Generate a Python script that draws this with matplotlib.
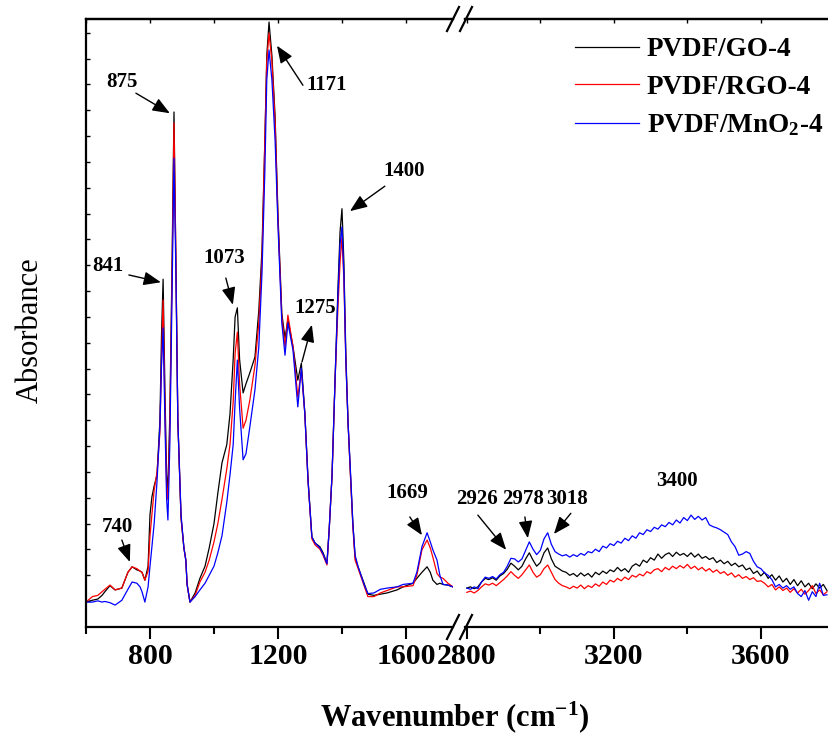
import numpy as np
import matplotlib
matplotlib.use('Agg')
import matplotlib.pyplot as plt
from matplotlib.lines import Line2D

plt.rcParams['font.family'] = 'Liberation Serif'
plt.rcParams['font.weight'] = 'bold'
plt.rcParams['mathtext.fontset'] = 'custom'
plt.rcParams['mathtext.rm'] = 'Liberation Serif:bold'
plt.rcParams['mathtext.it'] = 'Liberation Serif:bold:italic'
plt.rcParams['mathtext.bf'] = 'Liberation Serif:bold'

# fingerprint region (cm-1)
wn_low = [600, 620, 637, 650, 659, 675, 691, 712, 731, 744, 759, 769, 775, 784, 794,
          800, 806, 813, 822, 831, 836, 841, 847, 852, 856, 862, 869, 875, 881, 887,
          897, 906, 912, 916, 925, 941, 956, 972, 985, 1000, 1012, 1025, 1040, 1050,
          1060, 1066, 1073, 1080, 1091, 1100, 1112, 1128, 1140, 1150, 1159, 1165, 1172,
          1181, 1191, 1200, 1212, 1222, 1231, 1247, 1262, 1273, 1284, 1294, 1306, 1316,
          1331, 1341, 1353, 1360, 1369, 1378, 1387, 1394, 1400, 1406, 1412, 1419, 1428,
          1434, 1441, 1450, 1469, 1481, 1500, 1520, 1541, 1572, 1591, 1622, 1634, 1650,
          1666, 1676, 1684, 1697, 1706, 1716, 1731, 1747]

go_low = [0.041, 0.044, 0.046, 0.052, 0.058, 0.068, 0.061, 0.064, 0.090, 0.099, 0.094,
          0.092, 0.090, 0.077, 0.100, 0.185, 0.214, 0.232, 0.250, 0.340, 0.480, 0.572,
          0.380, 0.250, 0.225, 0.350, 0.600, 0.847, 0.600, 0.340, 0.180, 0.130, 0.110,
          0.070, 0.041, 0.056, 0.080, 0.100, 0.130, 0.170, 0.220, 0.270, 0.300, 0.350,
          0.440, 0.510, 0.525, 0.440, 0.385, 0.400, 0.418, 0.444, 0.520, 0.620, 0.800,
          0.940, 0.995, 0.940, 0.840, 0.678, 0.516, 0.475, 0.505, 0.461, 0.406, 0.434,
          0.352, 0.242, 0.148, 0.138, 0.132, 0.122, 0.105, 0.160, 0.250, 0.400, 0.550,
          0.650, 0.688, 0.600, 0.450, 0.336, 0.234, 0.171, 0.115, 0.099, 0.072, 0.054,
          0.052, 0.054, 0.056, 0.061, 0.066, 0.072, 0.080, 0.090, 0.099, 0.090, 0.077,
          0.070, 0.072, 0.070, 0.069, 0.066]

rgo_low = [0.041, 0.050, 0.052, 0.058, 0.062, 0.069, 0.061, 0.064, 0.090, 0.099, 0.096,
           0.092, 0.090, 0.077, 0.092, 0.150, 0.185, 0.225, 0.255, 0.320, 0.440, 0.538,
           0.350, 0.230, 0.209, 0.330, 0.580, 0.829, 0.600, 0.340, 0.180, 0.130, 0.110,
           0.070, 0.041, 0.052, 0.074, 0.090, 0.110, 0.140, 0.170, 0.210, 0.260, 0.300,
           0.370, 0.450, 0.485, 0.400, 0.327, 0.340, 0.373, 0.430, 0.500, 0.604, 0.800,
           0.930, 0.977, 0.930, 0.830, 0.670, 0.510, 0.461, 0.513, 0.461, 0.378, 0.423,
           0.350, 0.240, 0.145, 0.135, 0.128, 0.118, 0.102, 0.160, 0.250, 0.400, 0.520,
           0.600, 0.641, 0.570, 0.440, 0.336, 0.232, 0.165, 0.110, 0.097, 0.068, 0.050,
           0.050, 0.056, 0.060, 0.066, 0.066, 0.068, 0.085, 0.127, 0.143, 0.130, 0.115,
           0.088, 0.082, 0.080, 0.072, 0.066]

mno2_low = [0.041, 0.041, 0.043, 0.041, 0.042, 0.040, 0.036, 0.044, 0.062, 0.074, 0.072,
            0.066, 0.058, 0.041, 0.066, 0.100, 0.132, 0.170, 0.240, 0.330, 0.430, 0.492,
            0.330, 0.210, 0.176, 0.300, 0.550, 0.771, 0.580, 0.340, 0.185, 0.130, 0.110,
            0.070, 0.041, 0.050, 0.061, 0.072, 0.085, 0.100, 0.122, 0.150, 0.205, 0.250,
            0.300, 0.370, 0.439, 0.360, 0.275, 0.285, 0.329, 0.390, 0.460, 0.582, 0.750,
            0.900, 0.949, 0.900, 0.800, 0.660, 0.500, 0.447, 0.500, 0.455, 0.362, 0.426,
            0.350, 0.240, 0.148, 0.138, 0.130, 0.120, 0.104, 0.160, 0.250, 0.400, 0.540,
            0.630, 0.658, 0.580, 0.440, 0.336, 0.240, 0.170, 0.118, 0.100, 0.070, 0.055,
            0.056, 0.062, 0.064, 0.066, 0.070, 0.072, 0.090, 0.132, 0.155, 0.140, 0.127,
            0.110, 0.085, 0.070, 0.069, 0.066]

# C-H / O-H region (cm-1)
wn_high = [2800, 2810, 2820, 2830, 2840, 2850, 2860, 2870, 2880, 2890,
           2900, 2910, 2920, 2930, 2940, 2950, 2960, 2970, 2980, 2990,
           3000, 3010, 3020, 3030, 3040, 3050, 3060, 3070, 3080, 3090,
           3100, 3110, 3120, 3130, 3140, 3150, 3160, 3170, 3180, 3190,
           3200, 3210, 3220, 3230, 3240, 3250, 3260, 3270, 3280, 3290,
           3300, 3310, 3320, 3330, 3340, 3350, 3360, 3370, 3380, 3390,
           3400, 3410, 3420, 3430, 3440, 3450, 3460, 3470, 3480, 3490,
           3500, 3510, 3520, 3530, 3540, 3550, 3560, 3570, 3580, 3590,
           3600, 3610, 3620, 3630, 3640, 3650, 3660, 3670, 3680, 3690,
           3700, 3710, 3720, 3730, 3740, 3750, 3760, 3770, 3780]

go_high = [0.064, 0.066, 0.063, 0.066, 0.074, 0.080, 0.078, 0.081, 0.077, 0.084,
           0.088, 0.095, 0.105, 0.100, 0.094, 0.100, 0.112, 0.122, 0.110, 0.100,
           0.106, 0.122, 0.130, 0.112, 0.100, 0.096, 0.092, 0.090, 0.085, 0.088,
           0.083, 0.089, 0.084, 0.088, 0.082, 0.090, 0.086, 0.092, 0.088, 0.094,
           0.091, 0.098, 0.092, 0.096, 0.090, 0.100, 0.104, 0.100, 0.110, 0.106,
           0.114, 0.110, 0.120, 0.113, 0.119, 0.122, 0.116, 0.123, 0.118, 0.121,
           0.116, 0.122, 0.115, 0.120, 0.113, 0.116, 0.111, 0.114, 0.106, 0.110,
           0.104, 0.108, 0.101, 0.105, 0.099, 0.102, 0.094, 0.097, 0.088, 0.092,
           0.084, 0.090, 0.080, 0.086, 0.077, 0.084, 0.074, 0.080, 0.070, 0.078,
           0.068, 0.076, 0.066, 0.072, 0.063, 0.071, 0.064, 0.070, 0.060]

rgo_high = [0.057, 0.059, 0.056, 0.060, 0.066, 0.071, 0.069, 0.072, 0.068, 0.073,
            0.078, 0.084, 0.091, 0.085, 0.080, 0.086, 0.094, 0.102, 0.090, 0.082,
            0.086, 0.096, 0.102, 0.090, 0.078, 0.072, 0.068, 0.066, 0.063, 0.067,
            0.064, 0.069, 0.063, 0.068, 0.065, 0.071, 0.067, 0.074, 0.070, 0.077,
            0.074, 0.080, 0.076, 0.082, 0.078, 0.085, 0.082, 0.087, 0.084, 0.091,
            0.088, 0.094, 0.096, 0.091, 0.098, 0.094, 0.100, 0.096, 0.101, 0.097,
            0.103, 0.096, 0.100, 0.094, 0.098, 0.092, 0.096, 0.090, 0.094, 0.088,
            0.091, 0.085, 0.089, 0.082, 0.086, 0.080, 0.083, 0.078, 0.081, 0.075,
            0.076, 0.072, 0.066, 0.070, 0.061, 0.066, 0.060, 0.064, 0.057, 0.063,
            0.056, 0.062, 0.054, 0.060, 0.068, 0.055, 0.061, 0.053, 0.058]

mno2_high = [0.064, 0.062, 0.066, 0.063, 0.074, 0.082, 0.080, 0.083, 0.079, 0.086,
             0.090, 0.100, 0.113, 0.112, 0.107, 0.112, 0.126, 0.140, 0.128, 0.119,
             0.126, 0.145, 0.155, 0.136, 0.124, 0.120, 0.117, 0.119, 0.115, 0.119,
             0.116, 0.121, 0.118, 0.124, 0.122, 0.128, 0.124, 0.133, 0.130, 0.137,
             0.134, 0.141, 0.138, 0.146, 0.142, 0.150, 0.146, 0.155, 0.152, 0.160,
             0.157, 0.164, 0.161, 0.168, 0.165, 0.172, 0.168, 0.176, 0.171, 0.180,
             0.175, 0.184, 0.177, 0.182, 0.176, 0.180, 0.168, 0.165, 0.163, 0.160,
             0.156, 0.152, 0.140, 0.132, 0.118, 0.120, 0.124, 0.121, 0.108, 0.099,
             0.096, 0.089, 0.085, 0.078, 0.066, 0.070, 0.064, 0.068, 0.062, 0.066,
             0.055, 0.050, 0.060, 0.044, 0.058, 0.050, 0.072, 0.052, 0.053]

labels = ['PVDF/GO-4', 'PVDF/RGO-4', r'PVDF/MnO$_2$-4']
colors = ['black', 'red', 'blue']

W, H = 829, 740
fig = plt.figure(figsize=(W / 100, H / 100), dpi=100)
ax1 = fig.add_axes([86 / W, 113 / H, 367 / W, 608 / H])
ax2 = fig.add_axes([465 / W, 113 / H, 364 / W, 608 / H])

lines = []
for ys, c in zip([go_low, rgo_low, mno2_low], colors):
    lines += ax1.plot(wn_low, ys, color=c, lw=0.9)
for ys, c in zip([go_high, rgo_high, mno2_high], colors):
    ax2.plot(wn_high, ys, color=c, lw=0.9)

ax1.set_xlim(600, 1747)
ax2.set_xlim(2795, 3785.5)
ax1.set_xticks([800, 1200, 1600])
ax1.set_xticks([600, 1000, 1400], minor=True)
ax2.set_xticks([2800, 3200, 3600])
ax2.set_xticks([3000, 3400], minor=True)

for ax in (ax1, ax2):
    ax.set_ylim(0, 1.0)
    ax.spines['right'].set_visible(False)
    for s in ax.spines.values():
        s.set_linewidth(1.6)
    ax.tick_params(axis='x', which='major', direction='out', length=8.5, width=1.5,
                   labelsize=21.5, pad=3)
    ax.tick_params(axis='x', which='minor', direction='out', length=5, width=1.5)
    top = ax.secondary_xaxis('top')
    top.set_xticks(ax.get_xticks().tolist() + ax.get_xticks(minor=True).tolist())
    top.tick_params(axis='x', direction='in', length=3, width=1, labeltop=False)
    top.spines['top'].set_linewidth(1.6)

ax1.set_yticks(np.arange(0.0425, 1.0, 0.0425))
ax1.tick_params(axis='y', direction='in', length=3, width=1, labelleft=False)
ax2.spines['left'].set_visible(False)
ax2.tick_params(axis='y', left=False, labelleft=False)

ax1.set_ylabel('Absorbance', fontsize=22)
ax1.yaxis.set_label_coords(-0.1526, 0.4885)
ax1.yaxis.label.set_verticalalignment('center')
fig.text(455 / W, 1 - 717 / H, 'Wavenumber (cm$^{-1}$)', ha='center', va='center',
         fontsize=22)

# axis break marks
for yc in (19, 627):
    for x0 in (447, 460):
        fig.add_artist(Line2D([x0 / W, (x0 + 12) / W], [1 - (yc + 12) / H, 1 - (yc - 12) / H],
                              color='black', lw=1.6, transform=fig.transFigure))

arrow = dict(arrowstyle='-|>,head_length=0.7,head_width=0.28', color='black', lw=1,
             mutation_scale=15, shrinkA=0, shrinkB=0)

# (label, text pos, arrow tail, arrow tip) in data coordinates
notes_low = [
    ('740', (697, 0.164), (712, 0.143), (737, 0.107)),
    ('841', (669, 0.594), (734, 0.579), (834, 0.567)),
    ('875', (712, 0.896), (756, 0.878), (862, 0.845)),
    ('1073', (1031, 0.607), (1037, 0.574), (1059, 0.530)),
    ('1171', (1353, 0.891), (1278, 0.891), (1197, 0.956)),
    ('1275', (1316, 0.525), (1275, 0.436), (1306, 0.497)),
    ('1400', (1594, 0.750), (1534, 0.725), (1425, 0.684)),
    ('1669', (1603, 0.220), (1612, 0.181), (1650, 0.151)),
]
notes_high = [
    ('2926', (2828, 0.211), (2830, 0.184), (2907, 0.127)),
    ('2978', (2953, 0.211), (2958, 0.181), (2966, 0.146)),
    ('3018', (3072, 0.211), (3083, 0.187), (3037, 0.153)),
    ('3400', (3372, 0.240), None, None),
]
for ax, notes in ((ax1, notes_low), (ax2, notes_high)):
    for txt, pos, tail, tip in notes:
        ax.text(pos[0], pos[1], txt, ha='center', va='center', fontsize=15)
        if tip is not None:
            ax.annotate('', xy=tip, xytext=tail, arrowprops=arrow)

fig.legend(lines, labels, loc='upper left', bbox_to_anchor=(575 / W, 0.950),
           frameon=False, fontsize=19.5, handlelength=2.36, handletextpad=0.3,
           labelspacing=0.47, borderpad=0, borderaxespad=0)

fig.savefig('out.png', dpi=100)
